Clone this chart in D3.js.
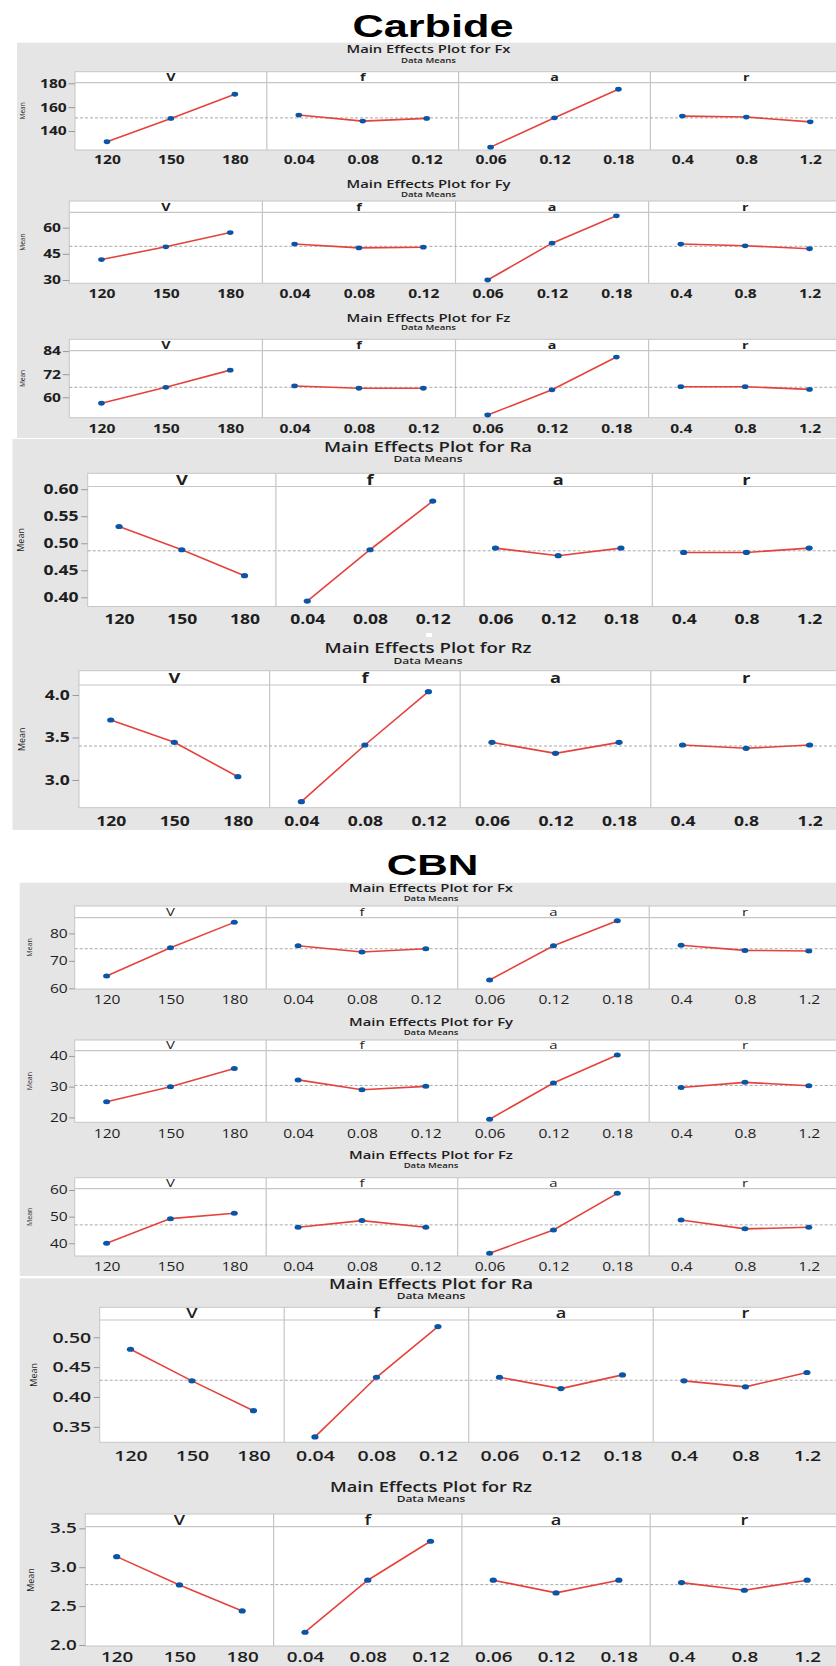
<!DOCTYPE html>
<html><head><meta charset="utf-8">
<script src="https://cdn.jsdelivr.net/npm/d3@7/dist/d3.min.js"></script>
<style>html,body{margin:0;padding:0;background:#fff;}svg{display:block;}</style>
</head><body>
<script>
// ---------------- DATA ----------------
const factorNames = ["V", "f", "a", "r"];
const levelLabels = [["120","150","180"],["0.04","0.08","0.12"],["0.06","0.12","0.18"],["0.4","0.8","1.2"]];
const responses = ["Fx", "Fy", "Fz", "Ra", "Rz"];

// Carbide (rows: V, f, a, r ; columns: level 1..3)
const carbideFx = [[131.0,150.6,170.8],[153.4,148.3,150.6],[126.5,151.1,175.0],[152.5,151.7,147.7]];
const carbideFy = [[41.7,49.0,57.2],[50.6,48.4,48.8],[30.0,51.1,66.8],[50.6,49.6,47.9]];
const carbideFz = [[56.9,65.2,74.1],[65.9,64.7,64.7],[50.8,63.9,80.9],[65.5,65.5,64.1]];
const carbideRa = [[0.531,0.488,0.440],[0.393,0.488,0.578],[0.491,0.477,0.491],[0.483,0.483,0.491]];
const carbideRz = [[3.706,3.443,3.039],[2.745,3.412,4.040],[3.443,3.314,3.443],[3.412,3.373,3.412]];
const carbideMeans = [151.0, 49.3, 65.2, 0.486, 3.40];
const carbideYTicks = [[140,160,180],[30,45,60],[60,72,84],[0.40,0.45,0.50,0.55,0.60],[3.0,3.5,4.0]];
const carbideYDomains = [[124.1,180.5],[28.1,68.8],[49.4,84.2],[0.383,0.605],[2.674,4.118]];

// CBN
const cbnFx = [[64.5,74.8,84.0],[75.5,73.2,74.4],[63.0,75.5,84.6],[75.7,73.8,73.6]];
const cbnFy = [[25.1,30.0,35.9],[32.2,29.0,30.1],[19.4,31.2,40.3],[29.7,31.4,30.3]];
const cbnFz = [[40.0,49.25,51.25],[46.0,48.5,46.0],[36.25,45.0,58.75],[48.75,45.4,46.0]];
const cbnRa = [[0.480,0.427,0.377],[0.333,0.433,0.518],[0.433,0.414,0.437],[0.427,0.417,0.441]];
const cbnRz = [[3.136,2.772,2.438],[2.164,2.833,3.334],[2.833,2.670,2.833],[2.802,2.704,2.833]];
const cbnMeans = [74.4, 30.4, 46.9, 0.428, 2.776];
const cbnYTicks = [[60,70,80],[20,30,40],[40,50,60],[0.35,0.40,0.45,0.50],[2.0,2.5,3.0,3.5]];
const cbnYDomains = [[59.75,85.7],[18.4,41.7],[35.2,60.5],[0.324,0.529],[1.987,3.521]];

const tickFormats = [d3.format("d"), d3.format("d"), d3.format("d"), d3.format(".2f"), d3.format(".1f")];
const sectionTitles = ["Carbide", "CBN"];

// ---------------- LAYOUT / STYLE ----------------
const SX = 1.3;
const C = {gray:"#e5e5e5", frame:"#c6c6c6", red:"#e5423d", blue:"#0b55a6", text:"#1e1e1e", mean:"#a8a8a8"};
const FONT = "'Open Sans', 'Noto Sans', sans-serif";

const grayBoxes = [
  {x:17, y:42.7, w:819, h:395.3},
  {x:12.5, y:439, w:823.5, h:391},
  {x:19.7, y:882.7, w:816.3, h:393.3},
  {x:19.7, y:1278.3, w:816.3, h:387.7}
];
const sectionLayout = [
  {cx:433, y:37, fs:32, w:161},
  {cx:432.5, y:875, fs:30, w:91.7}
];
const forceStyleCarb = {titleFs:11, titleW:164, subFs:7, subW:55, stripFs:11, stripW:700, tickFs:12, tickW:700, meanFs:6.5, tickLen:6.5, pad:1.8, rx:3.3, ry:2.4};
const roughStyleCarb = {titleFs:14, subFs:8.5, subW:69, stripFs:14, stripW:700, tickFs:13.5, tickW:700, meanFs:9, tickLen:6.5, pad:2.6, rx:3.6, ry:2.6};
const forceStyleCbn = {titleFs:10.5, titleW:164, subFs:7, subW:54.7, stripFs:11.5, stripW:400, tickFs:12, tickW:400, meanFs:7, tickLen:5.5, pad:1.5, rx:3.5, ry:2.5};
const roughStyleCbn = {titleFs:14, subFs:8.5, subW:68.6, stripFs:14, stripW:600, tickFs:15, tickW:600, meanFs:9, tickLen:6, pad:2.5, rx:3.6, ry:2.6};

const carbideLayout = [
  Object.assign({}, forceStyleCarb, {left:75, W:191.8, stripTop:71.7, stripLine:82.7, bottom:150, titleY:53.3, subY:62.7, cx:428.5, xLabOff:14.4, meanX:23}),
  Object.assign({}, forceStyleCarb, {left:69.3, W:193.1, stripTop:201, stripLine:212.3, bottom:283.3, titleY:187.7, subY:196.7, cx:428.5, xLabOff:14.4, meanX:23}),
  Object.assign({}, forceStyleCarb, {left:69.3, W:193.1, stripTop:339.3, stripLine:350.7, bottom:417.7, titleY:321.7, subY:330, cx:428.5, xLabOff:15, meanX:23}),
  Object.assign({}, roughStyleCarb, {left:87.7, W:188.2, stripTop:473.3, stripLine:486.5, bottom:606.5, titleY:452, subY:461.7, cx:428, titleW:208, xLabOff:17.8, meanX:20.5}),
  Object.assign({}, roughStyleCarb, {left:79, W:190.6, stripTop:670.7, stripLine:685, bottom:807.7, titleY:653.3, subY:664.3, cx:428, titleW:207, xLabOff:18, meanX:22})
];
const cbnLayout = [
  Object.assign({}, forceStyleCbn, {left:74.7, W:191.5, stripTop:906, stripLine:917.7, bottom:989, titleY:891.7, subY:901, cx:431, xLabOff:15.3, meanX:30}),
  Object.assign({}, forceStyleCbn, {left:74.7, W:191.5, stripTop:1040, stripLine:1050.7, bottom:1122.3, titleY:1025.7, subY:1035, cx:431, xLabOff:15.3, meanX:30}),
  Object.assign({}, forceStyleCbn, {left:74.7, W:191.5, stripTop:1177.7, stripLine:1188.7, bottom:1256, titleY:1159, subY:1168.3, cx:431, xLabOff:15.3, meanX:30}),
  Object.assign({}, roughStyleCbn, {left:99.7, W:184.5, stripTop:1307.3, stripLine:1320, bottom:1442.3, titleY:1289.3, subY:1299.3, cx:431, titleW:204, xLabOff:18.4, meanX:33.5}),
  Object.assign({}, roughStyleCbn, {left:85.3, W:188.3, stripTop:1514, stripLine:1526.7, bottom:1646, titleY:1491.7, subY:1501.7, cx:431, titleW:202, xLabOff:15.6, tickFs:14.5, meanX:31})
];

// ---------------- DRAW ----------------
const svg = d3.select("body").append("svg").attr("width", 836).attr("height", 1666)
  .style("font-family", FONT);
svg.append("rect").attr("width", 836).attr("height", 1666).attr("fill", "#fff");

svg.selectAll("rect.gray").data(grayBoxes).join("rect").attr("class", "gray")
  .attr("x", d => d.x).attr("y", d => d.y).attr("width", d => d.w).attr("height", d => d.h)
  .attr("fill", C.gray);

// small white mark between the carbide Ra and Rz plots
svg.append("rect").attr("x", 426).attr("y", 633).attr("width", 6).attr("height", 4).attr("fill", "#fff");

sectionTitles.forEach((t, i) => {
  const s = sectionLayout[i];
  svg.append("text").attr("x", s.cx).attr("y", s.y).attr("text-anchor", "middle")
    .attr("font-family", "'Liberation Sans', Arial, sans-serif").attr("font-weight", 700)
    .attr("font-size", s.fs).attr("fill", "#000")
    .attr("textLength", s.w).attr("lengthAdjust", "spacingAndGlyphs").text(t);
});

function drawPanel(L, values, mean, ticks, yDomain, fmt, resp) {
  const g = svg.append("g");
  const fullW = 4 * L.W;
  const y = d3.scaleLinear().domain(yDomain).range([L.bottom, L.stripLine]);

  // titles
  g.append("text").attr("x", L.cx).attr("y", L.titleY).attr("text-anchor", "middle")
    .attr("font-size", L.titleFs).attr("font-weight", 600).attr("fill", C.text)
    .attr("textLength", L.titleW).attr("lengthAdjust", "spacingAndGlyphs")
    .text("Main Effects Plot for " + resp);
  g.append("text").attr("x", L.cx).attr("y", L.subY).attr("text-anchor", "middle")
    .attr("font-size", L.subFs).attr("font-weight", 600).attr("fill", C.text)
    .attr("textLength", L.subW).attr("lengthAdjust", "spacingAndGlyphs")
    .text("Data Means");

  // frame
  g.append("rect").attr("x", L.left).attr("y", L.stripTop).attr("width", fullW).attr("height", L.bottom - L.stripTop)
    .attr("fill", "#fff").attr("stroke", C.frame).attr("stroke-width", 1);
  g.append("line").attr("x1", L.left).attr("x2", L.left + fullW).attr("y1", L.stripLine).attr("y2", L.stripLine)
    .attr("stroke", C.frame).attr("stroke-width", 1.2);
  for (let k = 1; k < 4; k++) {
    g.append("line").attr("x1", L.left + k * L.W).attr("x2", L.left + k * L.W)
      .attr("y1", L.stripTop).attr("y2", L.bottom).attr("stroke", C.frame).attr("stroke-width", 1.2);
  }

  // mean reference line
  g.append("line").attr("x1", L.left).attr("x2", L.left + fullW).attr("y1", y(mean)).attr("y2", y(mean))
    .attr("stroke", C.mean).attr("stroke-width", 1).attr("stroke-dasharray", "3,2");

  // y axis
  const ya = g.append("g").attr("transform", `translate(${L.left},0)`)
    .call(d3.axisLeft(y).tickValues(ticks).tickFormat(fmt).tickSize(L.tickLen).tickPadding(L.pad).tickSizeOuter(0));
  ya.select(".domain").remove();
  ya.selectAll(".tick line").attr("stroke", "#9a9a9a");
  ya.selectAll(".tick text").attr("x", -(L.tickLen + L.pad) / SX).attr("transform", `scale(${SX},1)`)
    .attr("font-size", L.tickFs).attr("font-weight", L.tickW).attr("fill", C.text).attr("font-family", FONT);

  g.append("text").attr("transform", `translate(${L.meanX},${(L.stripTop + L.bottom) / 2}) rotate(-90)`)
    .attr("text-anchor", "middle").attr("dy", "0.35em").attr("font-size", L.meanFs).attr("fill", C.text)
    .text("Mean");

  factorNames.forEach((fName, k) => {
    const x = d3.scalePoint().domain(levelLabels[k]).range([L.left + k * L.W, L.left + (k + 1) * L.W]).padding(0.5);
    // strip label
    g.append("text").attr("transform", `translate(${L.left + (k + 0.5) * L.W},${L.stripLine - 1.6}) scale(${SX},1)`)
      .attr("text-anchor", "middle").attr("font-size", L.stripFs).attr("font-weight", L.stripW).attr("fill", C.text)
      .text(fName);
    // x axis
    const xa = g.append("g").attr("transform", `translate(0,${L.bottom})`)
      .call(d3.axisBottom(x).tickSize(0).tickPadding(0).tickSizeOuter(0));
    xa.select(".domain").remove();
    xa.selectAll(".tick text").attr("y", L.xLabOff).attr("dy", 0).attr("transform", `scale(${SX},1)`)
      .attr("font-size", L.tickFs).attr("font-weight", L.tickW).attr("fill", C.text).attr("font-family", FONT);
    // line + points
    const pts = levelLabels[k].map((lab, i) => ({lab, v: values[k][i]}));
    g.append("path").datum(pts).attr("fill", "none").attr("stroke", C.red).attr("stroke-width", 1.6)
      .attr("d", d3.line().x(d => x(d.lab)).y(d => y(d.v)));
    g.selectAll(null).data(pts).join("ellipse")
      .attr("cx", d => x(d.lab)).attr("cy", d => y(d.v)).attr("rx", L.rx).attr("ry", L.ry)
      .attr("fill", C.blue);
  });
}

const carbideData = [carbideFx, carbideFy, carbideFz, carbideRa, carbideRz];
const cbnData = [cbnFx, cbnFy, cbnFz, cbnRa, cbnRz];
responses.forEach((r, i) => {
  drawPanel(carbideLayout[i], carbideData[i], carbideMeans[i], carbideYTicks[i], carbideYDomains[i], tickFormats[i], r);
  drawPanel(cbnLayout[i], cbnData[i], cbnMeans[i], cbnYTicks[i], cbnYDomains[i], tickFormats[i], r);
});
</script>
</body></html>
